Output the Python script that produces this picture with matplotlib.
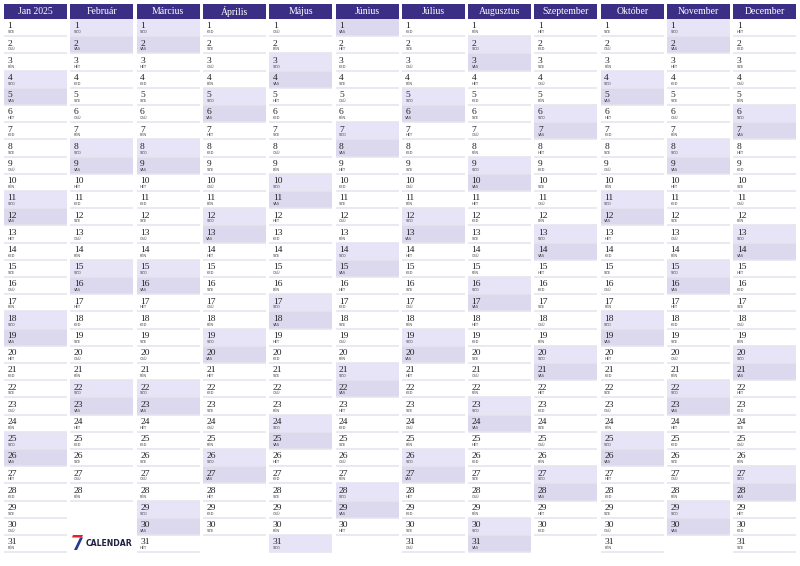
import datetime
import matplotlib.pyplot as plt
from matplotlib.patches import Rectangle, Polygon

year = 2025
months = ["Jan 2025", "Február", "Március", "Április", "Május", "Június",
          "Július", "Augusztus", "Szeptember", "Október", "November", "December"]
month_days = [31, 28, 31, 30, 31, 30, 31, 31, 30, 31, 30, 31]
day_names = ["HÉT", "KED", "SZE", "CSÜ", "PÉN", "SZO", "VAS"]

header_col = "#3a2f85"
sat_col = "#e7e4f8"
sun_col = "#dcd8ee"
line_col = "#e6e4ee"

W, H = 800, 566
fig = plt.figure(figsize=(8, 5.66), dpi=100)
ax = fig.add_axes([0, 0, 1, 1])
ax.set_xlim(0, W)
ax.set_ylim(H, 0)
ax.axis("off")

left0, pitch, colw = 4, 66.3, 63
top_h, head_h = 4, 14.5
row0, row_h = 19, 17.2

for m, (name, nd) in enumerate(zip(months, month_days)):
    x = left0 + m * pitch
    ax.add_patch(Rectangle((x, top_h), colw, head_h, color=header_col, lw=0))
    ax.text(x + colw / 2, top_h + head_h / 2 + 0.5, name, color="white",
            family="Liberation Serif", fontsize=7, ha="center", va="center")
    for d in range(1, nd + 1):
        y = row0 + (d - 1) * row_h
        wd = datetime.date(year, m + 1, d).weekday()
        if wd == 5:
            ax.add_patch(Rectangle((x, y), colw, row_h, color=sat_col, lw=0))
        elif wd == 6:
            ax.add_patch(Rectangle((x, y), colw, row_h, color=sun_col, lw=0))
        ax.plot([x, x + colw], [y + row_h, y + row_h], color=line_col, lw=1.2,
                solid_capstyle="butt")
        ax.text(x + 3.5, y + 7.5, str(d), family="Liberation Serif", fontsize=6.8,
                color="#222222", va="center", ha="left")
        ax.text(x + 3.5, y + 13.3, day_names[wd], family="DejaVu Sans",
                fontsize=2.6, color="#444444", va="center", ha="left")

# logo under February
lx, ly = 73, 535
ax.add_patch(Polygon([(lx, ly), (lx + 10, ly), (lx + 9, ly + 2.5), (lx - 1, ly + 2.5)],
                     color="#e8202a", lw=0))
ax.add_patch(Polygon([(lx + 7, ly + 2.5), (lx + 10, ly + 2.5), (lx + 4, ly + 15),
                      (lx + 1, ly + 15)], color="#2b3a8f", lw=0))
ax.text(lx + 13, ly + 8, "CALENDAR", family="DejaVu Sans", fontweight="bold",
        fontsize=5.6, color="#1f2240", va="center", ha="left")

fig.savefig("out.png", dpi=100)
